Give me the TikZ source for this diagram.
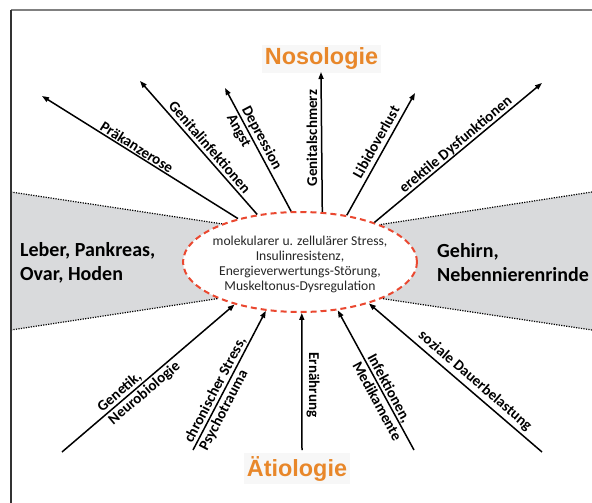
\documentclass[tikz,border=0pt]{standalone}
\usepackage{fontspec}
\setmainfont{Carlito}
\newfontfamily\titlefont{Liberation Sans}
\usetikzlibrary{arrows.meta,shapes.geometric,backgrounds}
\definecolor{ttlorange}{RGB}{232,135,42}
\definecolor{ellred}{RGB}{234,72,48}
\definecolor{regiongray}{RGB}{217,218,220}
\begin{document}
\begin{tikzpicture}[x=1pt,y=-1pt,
  arr/.style={line width=1.5pt,-{Triangle[length=7pt,width=5pt]}},
  lbl/.style={font=\bfseries\fontsize{15}{17}\selectfont, inner sep=0pt, align=left},
  bnd/.style={line width=1.2pt, dash pattern=on 1.2pt off 1.3pt},
  ttl/.style={font=\titlefont\bfseries\fontsize{23.4}{28}\selectfont, text=ttlorange, fill=black!3, inner sep=3pt},
  side/.style={font=\bfseries\fontsize{20}{24}\selectfont, align=left, inner sep=0pt}
]
\useasboundingbox (0,0) rectangle (592,503);

% central ellipse
\node[ellipse, minimum width=234pt, minimum height=100pt, inner sep=0pt,
      draw=ellred, line width=2pt, dash pattern=on 6pt off 4pt, fill=white] (c) at (300,262) {};
\node[font=\fontsize{13.6}{15}\selectfont, align=center, text=black!85, inner sep=0pt] (ct) at (300,264)
  {molekularer u. zellulärer Stress,\\Insulinresistenz,\\Energieverwertungs-Störung,\\Muskeltonus-Dysregulation};

% frame and grey regions
\coordinate (fTL) at (11,10);
\coordinate (fTR) at (592,10);
\coordinate (fBL) at (11,503);
\coordinate (gl1) at (11,192);
\coordinate (gl2) at (11,330);
\coordinate (gr1) at (592,192);
\coordinate (gr2) at (592,330);
\begin{pgfonlayer}{background}
  \fill[white] (0,0) rectangle (592,503);
  \fill[regiongray] (gl1) -- (c.154.4) -- (c.center) -- (c.204) -- (gl2) -- cycle;
  \fill[regiongray] (gr1) -- (c.25.9) -- (c.center) -- (c.-24) -- (gr2) -- cycle;
\end{pgfonlayer}
\draw[bnd] (gl1) -- (c.154.4);
\draw[bnd] (gl2) -- (c.204);
\draw[bnd] (gr1) -- (c.25.9);
\draw[bnd] (gr2) -- (c.-24);
\draw[gray, line width=1.3pt] (fTL) -- (fTR);
\draw[black!80, line width=1.3pt] (fTL) -- (fBL);

% side texts
\node[side, anchor=west] (lt) at (20,263) {Leber, Pankreas,\\Ovar, Hoden};
\node[side, anchor=west] (rt) at (437,263) {Gehirn,\\Nebennierenrinde};

% titles
\node[ttl, anchor=base] (nos) at (321.5,65) {Nosologie};
\node[ttl, anchor=base] (aet) at (297,476) {Ätiologie};

% Nosologie arrows
\coordinate (p1) at (42,96);
\coordinate (p2) at (140,81);
\coordinate (p3) at (225,88);
\coordinate (p4) at (321,72);
\coordinate (p5) at (415,93);
\coordinate (p6) at (542,83);
\draw[arr] (c.145.9) -- (p1);
\draw[arr] (c.132.6) -- (p2);
\draw[arr] (c.100.9) -- (p3);
\draw[arr] (c.66.88) -- (p4);
\draw[arr] (c.45.6) -- (p5);
\draw[arr] (c.28) -- (p6);

\node[lbl, rotate=-32.3] (l1) at (137,147) {Präkanzerose};
\node[lbl, rotate=-49] (l2) at (210,147) {Genitalinfektionen};
\node[lbl, rotate=-62] (l3) at (254,142) {Depression\\Angst};
\node[lbl, rotate=90] (l4) at (312,138) {Genitalschmerz};
\node[lbl, rotate=60.8] (l5) at (376,142) {Libidoverlust};
\node[lbl, rotate=40] (l6) at (456,145) {erektile Dysfunktionen};

% Aetiologie arrows
\coordinate (q1) at (62,452);
\coordinate (q2) at (193,450);
\coordinate (q3) at (302,450);
\coordinate (q4) at (414,450);
\coordinate (q5) at (542,452);
\draw[arr] (q1) -- (c.213.5);
\draw[arr] (q2) -- (c.235);
\draw[arr] (q3) -- (c.272.3);
\draw[arr] (q4) -- (c.308);
\draw[arr] (q5) -- (c.329);

\node[lbl, rotate=40.4] (m1) at (139,387) {Genetik,\\Neurobiologie};
\node[lbl, rotate=62.4] (m2) at (223,394) {chronischer Stress,\\Psychotrauma};
\node[lbl, rotate=-90] (m3) at (313,385) {Ernährung};
\node[lbl, rotate=-61.5] (m4) at (385,397) {Infektionen,\\Medikamente};
\node[lbl, rotate=-40.7] (m5) at (475,381) {soziale Dauerbelastung};
\end{tikzpicture}
\end{document}
